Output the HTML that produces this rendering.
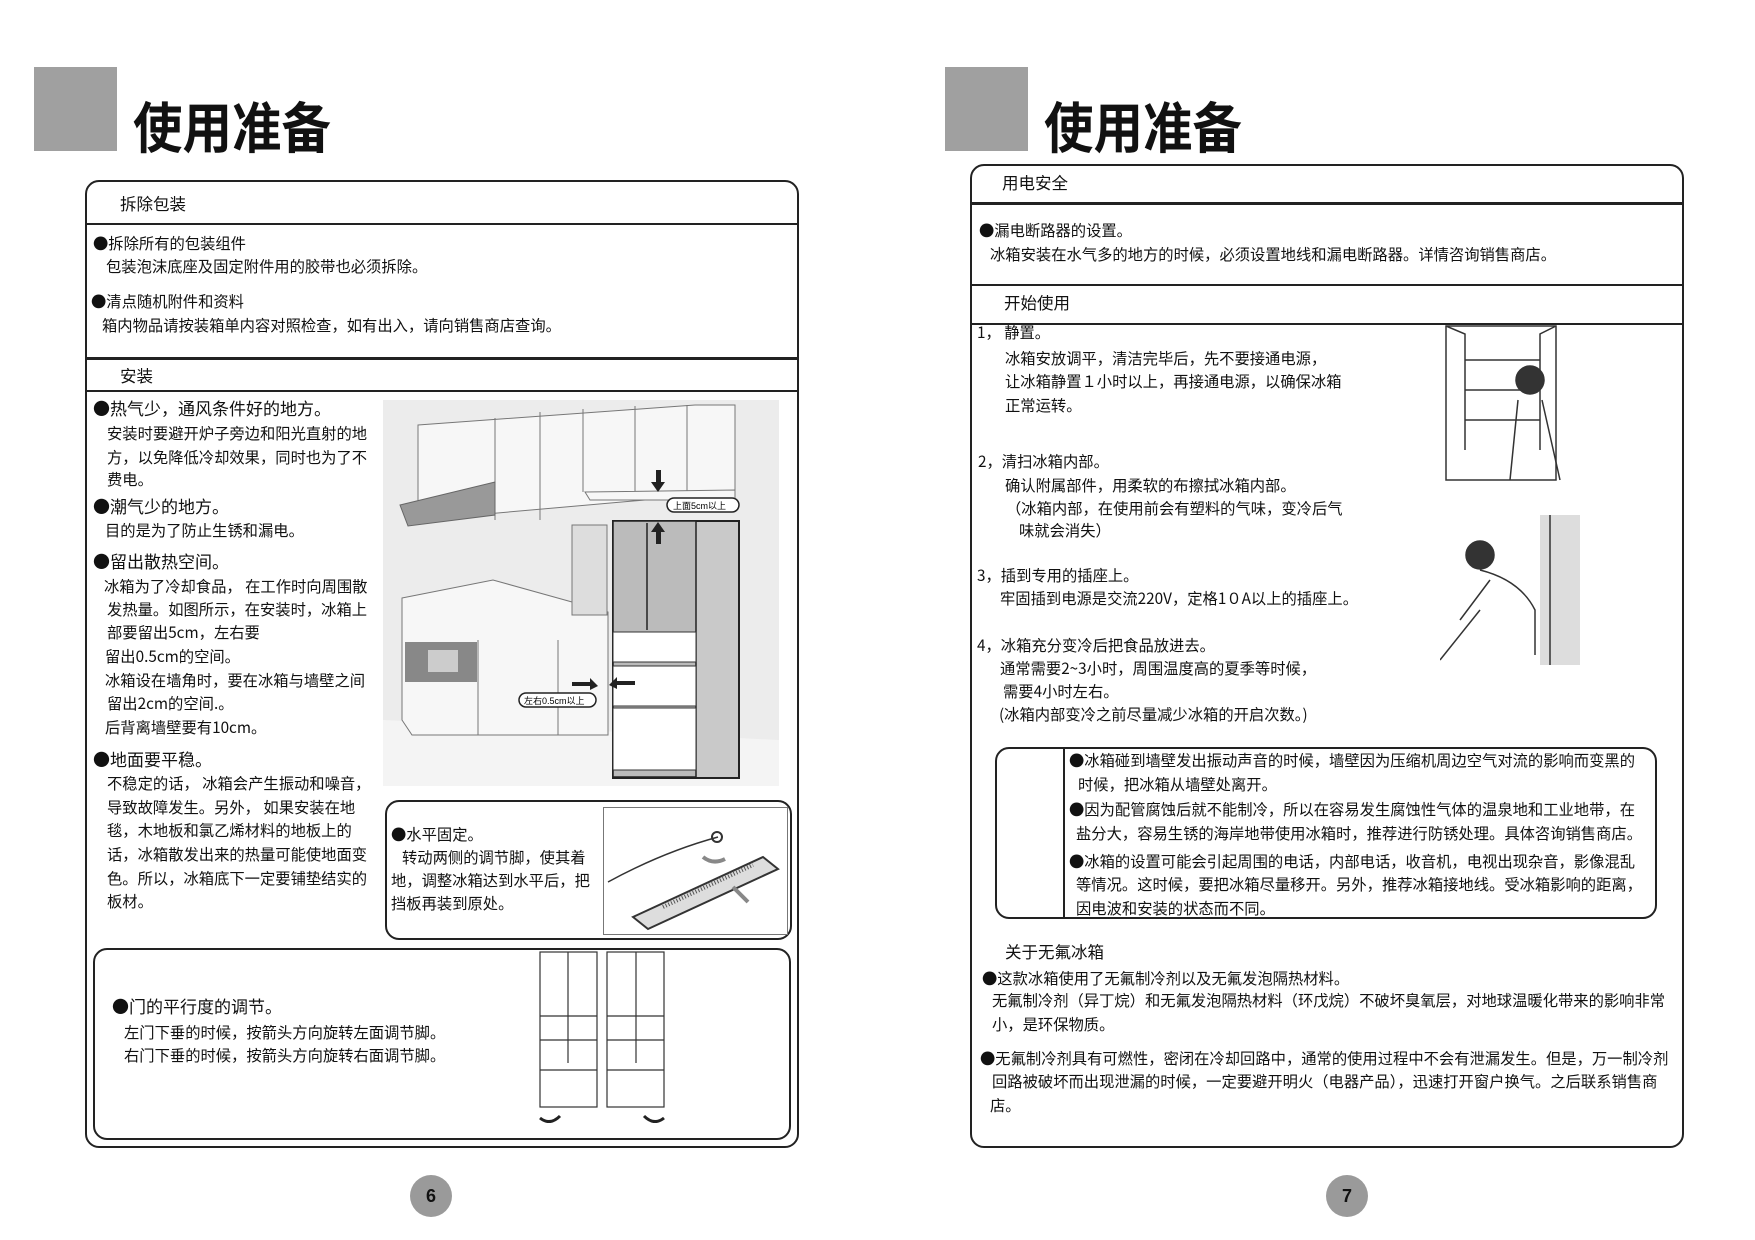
<!DOCTYPE html>
<html><head><meta charset="utf-8"><style>
*{margin:0;padding:0;box-sizing:border-box}
body{width:1755px;height:1240px;background:#fff;position:relative;overflow:hidden;font-family:"Noto Sans CJK SC","WenQuanYi Zen Hei",sans-serif;color:#111}
.t{position:absolute;white-space:nowrap;font-size:15.3px;line-height:17px}
.h{position:absolute;white-space:nowrap;font-size:17px;line-height:19px}
.s{position:absolute;white-space:nowrap;font-size:16.5px;line-height:19px}
.title{position:absolute;font-size:55px;font-weight:bold;line-height:60px;transform:scaleX(0.9);transform-origin:left top}
.sq{position:absolute;background:#a0a0a0}
.box{position:absolute;border:2px solid #222;border-radius:14px}
.ln{position:absolute;background:#222}
.pn{position:absolute;width:42px;height:42px;border-radius:50%;background:#9a9a9a;font-weight:bold;font-size:18px;line-height:42px;text-align:center;font-family:"Liberation Sans",sans-serif}
svg{position:absolute}
</style></head><body>
<!-- LEFT PAGE -->
<div class="sq" style="left:34px;top:67px;width:83px;height:84px"></div>
<div class="title" style="left:133px;top:94px">使用准备</div>
<div class="box" style="left:85px;top:180px;width:714px;height:968px"></div>
<div class="s" style="left:120px;top:194px">拆除包装</div>
<div class="ln" style="left:85px;top:223px;width:714px;height:2px"></div>
<div class="t" style="left:93px;top:235px">●拆除所有的包装组件</div>
<div class="t" style="left:106px;top:258px">包装泡沫底座及固定附件用的胶带也必须拆除。</div>
<div class="t" style="left:91px;top:293px">●清点随机附件和资料</div>
<div class="t" style="left:102px;top:317px">箱内物品请按装箱单内容对照检查，如有出入，请向销售商店查询。</div>
<div class="ln" style="left:85px;top:357px;width:714px;height:3px"></div>
<div class="s" style="left:120px;top:366px">安装</div>
<div class="ln" style="left:85px;top:390px;width:714px;height:2px"></div>
<div class="h" style="left:93px;top:398px">●热气少，通风条件好的地方。</div>
<div class="t" style="left:107px;top:425px">安装时要避开炉子旁边和阳光直射的地</div>
<div class="t" style="left:107px;top:449px">方，以免降低冷却效果，同时也为了不</div>
<div class="t" style="left:107px;top:471px">费电。</div>
<div class="h" style="left:93px;top:496px">●潮气少的地方。</div>
<div class="t" style="left:105px;top:522px">目的是为了防止生锈和漏电。</div>
<div class="h" style="left:93px;top:551px">●留出散热空间。</div>
<div class="t" style="left:104px;top:578px">冰箱为了冷却食品， 在工作时向周围散</div>
<div class="t" style="left:107px;top:601px">发热量。如图所示，在安装时，冰箱上</div>
<div class="t" style="left:107px;top:624px">部要留出5cm，左右要</div>
<div class="t" style="left:105px;top:648px">留出0.5cm的空间。</div>
<div class="t" style="left:105px;top:672px">冰箱设在墙角时，要在冰箱与墙壁之间</div>
<div class="t" style="left:107px;top:695px">留出2cm的空间.。</div>
<div class="t" style="left:105px;top:719px">后背离墙壁要有10cm。</div>
<div class="h" style="left:93px;top:749px">●地面要平稳。</div>
<div class="t" style="left:107px;top:775px">不稳定的话， 冰箱会产生振动和噪音，</div>
<div class="t" style="left:107px;top:799px">导致故障发生。另外， 如果安装在地</div>
<div class="t" style="left:107px;top:822px">毯，木地板和氯乙烯材料的地板上的</div>
<div class="t" style="left:107px;top:846px">话，冰箱散发出来的热量可能使地面变</div>
<div class="t" style="left:107px;top:870px">色。所以，冰箱底下一定要铺垫结实的</div>
<div class="t" style="left:107px;top:893px">板材。</div>

<svg style="left:383px;top:400px" width="396" height="386" viewBox="383 400 396 386">
<rect x="383" y="400" width="396" height="386" fill="#ececec"/>
<polygon points="383,720 779,740 779,786 383,786" fill="#f4f4f4"/>
<g fill="#f7f7f7" stroke="#777" stroke-width="1">
<polygon points="418,425 695,405 735,405 735,492 418,520"/>
<line x1="495" y1="418" x2="495" y2="520"/><line x1="540" y1="412" x2="540" y2="520"/><line x1="583" y1="409" x2="583" y2="492"/><line x1="635" y1="406" x2="635" y2="492"/><line x1="687" y1="405" x2="687" y2="492"/>
<polygon points="585,492 735,490 735,500 590,500"/>
<polygon points="402,598 493,580 608,612 608,735 412,735 402,720"/>
<line x1="478" y1="640" x2="478" y2="735"/><line x1="558" y1="640" x2="558" y2="735"/>
</g>
<polygon points="400,505 495,482 495,515 408,526" fill="#999" stroke="#666"/>
<rect x="405" y="642" width="72" height="40" fill="#888"/><rect x="428" y="650" width="30" height="22" fill="#ccc"/>
<rect x="572" y="525" width="35" height="90" fill="#ddd" stroke="#777"/>
<rect x="613" y="521" width="126" height="257" fill="#c9c9c9" stroke="#222" stroke-width="2"/>
<rect x="613" y="521" width="83" height="256" fill="#bbb" stroke="#222" stroke-width="1.5"/>
<line x1="647" y1="523" x2="647" y2="630" stroke="#222" stroke-width="1.5"/>
<rect x="613" y="632" width="83" height="30" fill="#fff" stroke="#333"/>
<rect x="613" y="666" width="83" height="40" fill="#fff" stroke="#333"/>
<rect x="613" y="708" width="83" height="62" fill="#fff" stroke="#333"/>
<rect x="667" y="498" width="72" height="14" rx="7" fill="#fff" stroke="#222" stroke-width="1.5"/>
<text x="673" y="509" font-size="9" font-family="Liberation Sans,Noto Sans CJK SC,sans-serif">上面5cm以上</text>
<polygon points="656,470 661,470 661,482 665,482 658,492 651,482 656,482" fill="#222"/>
<polygon points="658,522 665,532 661,532 661,544 656,544 656,532 651,532" fill="#222"/>
<rect x="519" y="693" width="77" height="14" rx="7" fill="#fff" stroke="#222" stroke-width="1.5"/>
<text x="524" y="704" font-size="9" font-family="Liberation Sans,Noto Sans CJK SC,sans-serif">左右0.5cm以上</text>
<polygon points="572,682 590,682 590,678 598,686 590,690 590,686 572,686" fill="#222"/>
<polygon points="635,681 617,681 617,677 609,685 617,689 617,685 635,685" fill="#222"/>
</svg>

<div class="box" style="left:385px;top:800px;width:407px;height:140px;border-radius:14px"></div>
<div class="t" style="left:391px;top:826px">●水平固定。</div>
<div class="t" style="left:402px;top:849px">转动两侧的调节脚，使其着</div>
<div class="t" style="left:391px;top:872px">地，调整冰箱达到水平后，把</div>
<div class="t" style="left:391px;top:895px">挡板再装到原处。</div>
<svg style="left:603px;top:807px" width="185" height="128" viewBox="0 0 185 128">
<rect x="0.5" y="0.5" width="184" height="127" fill="#fff" stroke="#777"/>
<path d="M5 75 Q60 45 115 30" stroke="#333" fill="none" stroke-width="1.5"/>
<circle cx="114" cy="30" r="5" fill="none" stroke="#333" stroke-width="2"/>
<polygon points="30,110 160,50 175,62 45,122" fill="#ddd" stroke="#333" stroke-width="2"/>
<line x1="60" y1="100" x2="150" y2="58" stroke="#555" stroke-width="4" stroke-dasharray="1 2"/>
<path d="M100 50 Q110 58 122 52" stroke="#888" stroke-width="4" fill="none"/>
<path d="M130 80 L145 95" stroke="#888" stroke-width="4"/>
</svg>

<div class="box" style="left:93px;top:948px;width:698px;height:192px"></div>
<div class="h" style="left:112px;top:996px">●门的平行度的调节。</div>
<div class="t" style="left:124px;top:1024px">左门下垂的时候，按箭头方向旋转左面调节脚。</div>
<div class="t" style="left:124px;top:1047px">右门下垂的时候，按箭头方向旋转右面调节脚。</div>
<svg style="left:530px;top:948px" width="150" height="175" viewBox="530 948 150 175">
<g fill="#fff" stroke="#333" stroke-width="1.2">
<rect x="540" y="952" width="57" height="155"/><line x1="568" y1="952" x2="568" y2="1063"/>
<line x1="540" y1="1016" x2="597" y2="1016"/><line x1="540" y1="1040" x2="597" y2="1040"/><line x1="540" y1="1070" x2="597" y2="1070"/>
<rect x="607" y="952" width="57" height="155"/><line x1="636" y1="952" x2="636" y2="1063"/>
<line x1="607" y1="1016" x2="664" y2="1016"/><line x1="607" y1="1040" x2="664" y2="1040"/><line x1="607" y1="1070" x2="664" y2="1070"/>
</g>
<path d="M540 1118 Q550 1126 560 1116" stroke="#222" stroke-width="3" fill="none"/>
<path d="M664 1118 Q654 1126 644 1116" stroke="#222" stroke-width="3" fill="none"/>
</svg>
<div class="pn" style="left:410px;top:1175px">6</div>

<!-- RIGHT PAGE -->
<div class="sq" style="left:945px;top:67px;width:83px;height:84px"></div>
<div class="title" style="left:1044px;top:94px">使用准备</div>
<div class="box" style="left:970px;top:164px;width:714px;height:984px"></div>
<div class="s" style="left:1002px;top:173px">用电安全</div>
<div class="ln" style="left:970px;top:202px;width:714px;height:3px"></div>
<div class="t" style="left:979px;top:222px">●漏电断路器的设置。</div>
<div class="t" style="left:990px;top:246px">冰箱安装在水气多的地方的时候，必须设置地线和漏电断路器。详情咨询销售商店。</div>
<div class="ln" style="left:970px;top:284px;width:714px;height:2px"></div>
<div class="s" style="left:1004px;top:293px">开始使用</div>
<div class="ln" style="left:970px;top:323px;width:714px;height:2px"></div>
<div class="t" style="left:977px;top:324px">1， 静置。</div>
<div class="t" style="left:1005px;top:350px">冰箱安放调平，清洁完毕后，先不要接通电源，</div>
<div class="t" style="left:1005px;top:373px">让冰箱静置１小时以上，再接通电源，以确保冰箱</div>
<div class="t" style="left:1005px;top:397px">正常运转。</div>
<div class="t" style="left:978px;top:453px">2，清扫冰箱内部。</div>
<div class="t" style="left:1005px;top:477px">确认附属部件，用柔软的布擦拭冰箱内部。</div>
<div class="t" style="left:1006px;top:500px">（冰箱内部，在使用前会有塑料的气味，变冷后气</div>
<div class="t" style="left:1019px;top:522px">味就会消失）</div>
<div class="t" style="left:977px;top:567px">3，插到专用的插座上。</div>
<div class="t" style="left:1000px;top:590px">牢固插到电源是交流220V，定格1０A以上的插座上。</div>
<div class="t" style="left:977px;top:637px">4，冰箱充分变冷后把食品放进去。</div>
<div class="t" style="left:1000px;top:660px">通常需要2~3小时，周围温度高的夏季等时候，</div>
<div class="t" style="left:1003px;top:683px">需要4小时左右。</div>
<div class="t" style="left:999px;top:706px">(冰箱内部变冷之前尽量减少冰箱的开启次数。)</div>
<svg style="left:1440px;top:320px" width="140" height="350" viewBox="0 0 140 350">
<g fill="none" stroke="#333" stroke-width="1.5">
<rect x="6" y="6" width="110" height="154"/><polyline points="6,6 25,14 25,130"/><polyline points="116,6 100,14 100,130"/>
<line x1="25" y1="40" x2="100" y2="40"/><line x1="25" y1="70" x2="100" y2="70"/><line x1="25" y1="100" x2="100" y2="100"/>
<circle cx="90" cy="60" r="14" fill="#333"/><path d="M78 80 L70 160 M102 80 L120 160"/>
<rect x="100" y="195" width="50" height="150" fill="#ddd" stroke="none"/>
<line x1="110" y1="195" x2="110" y2="345"/>
<circle cx="40" cy="235" r="14" fill="#333"/><path d="M40 250 Q80 260 95 290 L95 335 M50 260 L20 300"/>
<path d="M0 340 L40 290"/>
</g>
</svg>
<div class="box" style="left:995px;top:747px;width:662px;height:172px"></div>
<div class="ln" style="left:1063px;top:748px;width:2px;height:170px"></div>
<div class="t" style="left:1069px;top:752px">●冰箱碰到墙壁发出振动声音的时候，墙壁因为压缩机周边空气对流的影响而变黑的</div>
<div class="t" style="left:1078px;top:776px">时候，把冰箱从墙壁处离开。</div>
<div class="t" style="left:1069px;top:801px">●因为配管腐蚀后就不能制冷，所以在容易发生腐蚀性气体的温泉地和工业地带，在</div>
<div class="t" style="left:1076px;top:825px">盐分大，容易生锈的海岸地带使用冰箱时，推荐进行防锈处理。具体咨询销售商店。</div>
<div class="t" style="left:1069px;top:853px">●冰箱的设置可能会引起周围的电话，内部电话，收音机，电视出现杂音，影像混乱</div>
<div class="t" style="left:1076px;top:876px">等情况。这时候，要把冰箱尽量移开。另外，推荐冰箱接地线。受冰箱影响的距离，</div>
<div class="t" style="left:1076px;top:900px">因电波和安装的状态而不同。</div>
<div class="s" style="left:1005px;top:942px">关于无氟冰箱</div>
<div class="t" style="left:982px;top:970px">●这款冰箱使用了无氟制冷剂以及无氟发泡隔热材料。</div>
<div class="t" style="left:992px;top:992px">无氟制冷剂（异丁烷）和无氟发泡隔热材料（环戊烷）不破坏臭氧层，对地球温暖化带来的影响非常</div>
<div class="t" style="left:992px;top:1016px">小，是环保物质。</div>
<div class="t" style="left:980px;top:1050px">●无氟制冷剂具有可燃性，密闭在冷却回路中，通常的使用过程中不会有泄漏发生。但是，万一制冷剂</div>
<div class="t" style="left:992px;top:1073px">回路被破坏而出现泄漏的时候，一定要避开明火（电器产品），迅速打开窗户换气。之后联系销售商</div>
<div class="t" style="left:990px;top:1097px">店。</div>
<div class="pn" style="left:1326px;top:1175px">7</div>
</body></html>
